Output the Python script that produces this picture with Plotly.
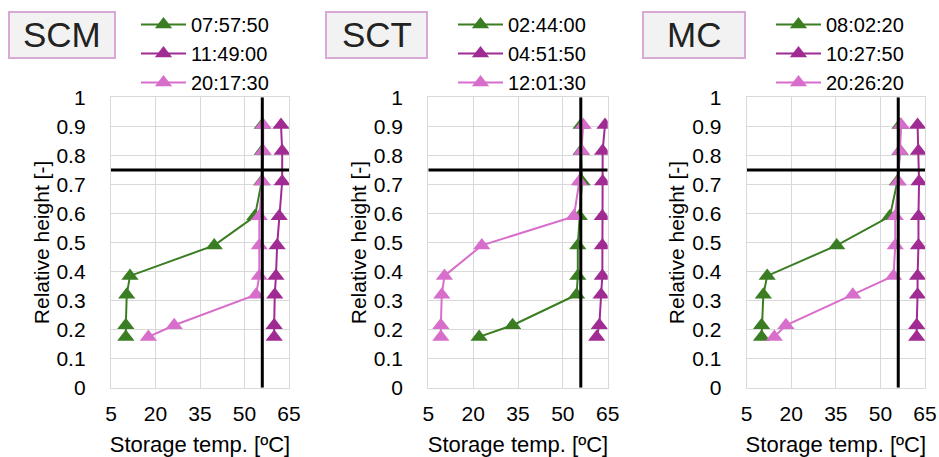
import plotly.graph_objects as go

W, H = 939, 457

heights = [0.905, 0.815, 0.71, 0.59, 0.49, 0.385, 0.32, 0.215, 0.175]

panels = ["SCM", "SCT", "MC"]
series_names = {
    "SCM": ["07:57:50", "11:49:00", "20:17:30"],
    "SCT": ["02:44:00", "04:51:50", "12:01:30"],
    "MC": ["08:02:20", "10:27:50", "20:26:20"],
}
scm_green = [56.0, 56.0, 55.8, 53.5, 39.8, 11.4, 10.3, 10.0, 10.0]
scm_purple = [62.3, 62.7, 62.7, 61.7, 61.0, 60.6, 60.2, 60.0, 60.0]
scm_pink = [56.3, 56.3, 56.0, 55.0, 55.0, 55.0, 53.9, 26.3, 17.6]

sct_green = [56.1, 56.1, 56.4, 55.5, 55.0, 55.0, 54.6, 33.2, 22.0]
sct_purple = [64.1, 63.3, 63.3, 63.2, 63.2, 63.2, 62.8, 62.2, 61.3]
sct_pink = [56.8, 56.3, 55.5, 53.7, 22.9, 10.4, 9.5, 9.2, 9.2]

mc_green = [56.6, 56.6, 55.7, 53.2, 35.3, 11.9, 10.6, 10.0, 10.0]
mc_purple = [62.5, 62.8, 63.0, 62.8, 62.8, 62.5, 62.5, 62.2, 62.2]
mc_pink = [57.0, 56.6, 56.0, 55.0, 55.0, 54.4, 40.7, 18.2, 14.3]

panel_values = {
    "SCM": [scm_green, scm_purple, scm_pink],
    "SCT": [sct_green, sct_purple, sct_pink],
    "MC": [mc_green, mc_purple, mc_pink],
}

ref_temp = 56
ref_height = 0.75
x_ticks = [5, 20, 35, 50, 65]
y_ticks = [0, 0.1, 0.2, 0.3, 0.4, 0.5, 0.6, 0.7, 0.8, 0.9, 1]

colors = ["#3A7D22", "#A02B93", "#D86ECC"]
FONT = "Liberation Sans, Arial, sans-serif"

# layout geometry (pixels)
plot_x = [(111, 289), (428.3, 607.7), (746.7, 925)]
plot_top, plot_bottom = 97.3, 387.7
box_x = [(9, 115), (326, 427), (643, 745)]
box_y = (12, 58)
legend_x = [136, 453, 771]

fig = go.Figure()
shapes = []
annotations = []
for i, p in enumerate(panels):
    ax = "" if i == 0 else str(i + 1)
    leg = "legend" if i == 0 else "legend" + str(i + 1)
    for j, (name, vals) in enumerate(zip(series_names[p], panel_values[p])):
        fig.add_trace(go.Scatter(
            x=vals, y=heights, name=name, mode="lines+markers",
            line=dict(color=colors[j], width=2),
            marker=dict(symbol="triangle-up", size=15, color=colors[j]),
            xaxis="x" + ax, yaxis="y" + ax, legend=leg,
            legendgroup=p + str(j),
        ))
    fig.add_trace(go.Scatter(
        x=[ref_temp, ref_temp], y=[0, 1], mode="lines",
        line=dict(color="black", width=3), showlegend=False,
        xaxis="x" + ax, yaxis="y" + ax, hoverinfo="skip"))
    fig.add_trace(go.Scatter(
        x=[x_ticks[0], x_ticks[-1]], y=[ref_height, ref_height], mode="lines",
        line=dict(color="black", width=3), showlegend=False,
        xaxis="x" + ax, yaxis="y" + ax, hoverinfo="skip"))

    x0, x1 = plot_x[i]
    common = dict(showgrid=True, gridcolor="#D9D9D9", gridwidth=1.3,
                  showline=True, linecolor="#D9D9D9", linewidth=1.3, mirror=True,
                  zeroline=False, tickfont=dict(family=FONT, size=21, color="#000000"),
                  ticks="", automargin=False)
    fig.update_layout(**{
        "xaxis" + ax: dict(domain=[x0 / W, x1 / W], range=[5, 65], tickvals=x_ticks,
                           ticktext=[str(t) for t in x_ticks], anchor="y" + ax,
                           ticklabelstandoff=7,
                           title=dict(text="Storage temp. [ºC]", font=dict(family=FONT, size=22, color="#000"), standoff=13),
                           **common),
        "yaxis" + ax: dict(domain=[1 - plot_bottom / H, 1 - plot_top / H], range=[0, 1],
                           tickvals=y_ticks, ticktext=[f"{t:g}" for t in y_ticks],
                           anchor="x" + ax, ticklabelstandoff=20,
                           title=dict(text="Relative height [-]", font=dict(family=FONT, size=21, color="#000"), standoff=1),
                           **common),
        leg: dict(x=legend_x[i] / W, y=1 - 5 / H, xanchor="left", yanchor="top",
                  font=dict(family=FONT, size=20, color="#000"),
                  bgcolor="rgba(0,0,0,0)", tracegroupgap=0, itemwidth=45),
    })
    bx0, bx1 = box_x[i]
    shapes.append(dict(type="rect", xref="paper", yref="paper",
                       x0=bx0 / W, x1=bx1 / W, y0=1 - box_y[1] / H, y1=1 - box_y[0] / H,
                       fillcolor="#F2F2F2", line=dict(color="#D9A9D6", width=2)))
    annotations.append(dict(text=p, xref="paper", yref="paper",
                            x=(bx0 + bx1) / 2 / W, y=1 - (box_y[0] + box_y[1]) / 2 / H,
                            xanchor="center", yanchor="middle", showarrow=False,
                            font=dict(family=FONT, size=35, color="#222")))

fig.update_layout(width=W, height=H, margin=dict(l=0, r=0, t=0, b=0),
                  paper_bgcolor="white", plot_bgcolor="white",
                  shapes=shapes, annotations=annotations, showlegend=True)
fig.write_html("out.html", config={"displayModeBar": False},
               post_script="document.body.style.margin='0px';")
